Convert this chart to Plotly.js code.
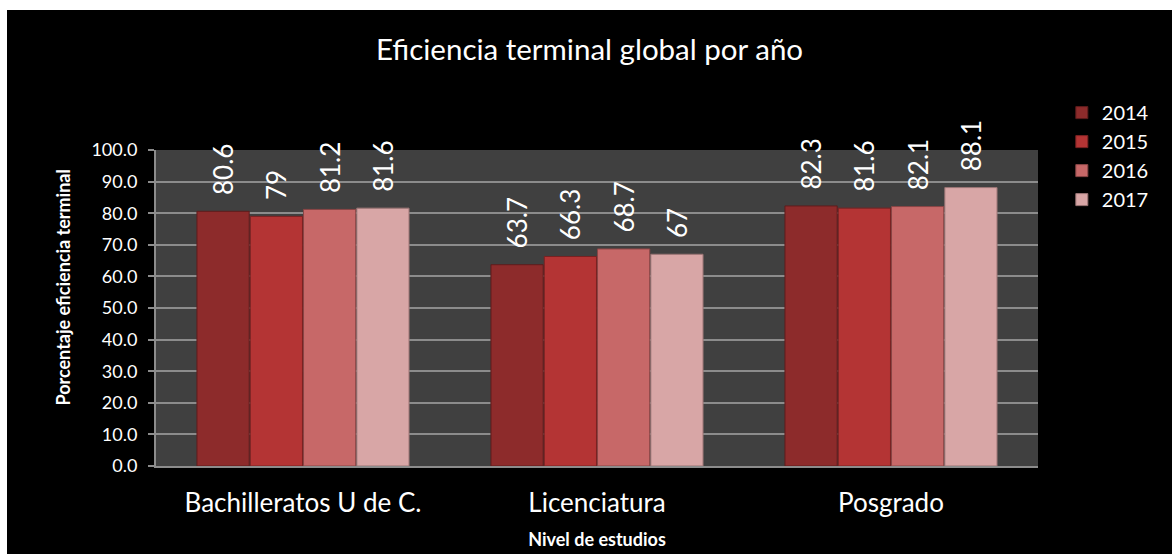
<!DOCTYPE html>
<html>
<head>
<meta charset="utf-8">
<script src="https://cdn.plot.ly/plotly-3.0.1.min.js"></script>
<style>
html,body{margin:0;padding:0;background:#ffffff;}
#chart{position:absolute;left:7px;top:10px;width:1165px;height:544px;}
</style>
</head>
<body>
<div id="chart"></div>
<script>
const categories = ["Bachilleratos U de C.", "Licenciatura", "Posgrado"];
const years = ["2014", "2015", "2016", "2017"];
const v2014 = [80.6, 63.7, 82.3];
const v2015 = [79, 66.3, 81.6];
const v2016 = [81.2, 68.7, 82.1];
const v2017 = [81.6, 67, 88.1];
const tickVals = [0, 10, 20, 30, 40, 50, 60, 70, 80, 90, 100];

const seriesValues = [v2014, v2015, v2016, v2017];
const colors = ["#8d2b2b", "#b43434", "#c76868", "#d8a6a6"];
const lineColors = ["#5e1c1c", "#7a2222", "#8a4646", "#9a7474"];
const FONT = "Lato, sans-serif";

const traces = seriesValues.map((vals, i) => ({
  type: "bar",
  name: years[i],
  x: categories,
  y: vals,
  text: vals.map(v => "\u00A0\u00A0" + String(v)),
  textposition: "outside",
  textangle: -90,
  constraintext: "none",
  cliponaxis: false,
  textfont: {color: "#ffffff", size: 26, family: FONT},
  marker: {color: colors[i], line: {color: lineColors[i], width: 1}},
  hoverinfo: "x+y+name"
}));

const layout = {
  width: 1165,
  height: 544,
  paper_bgcolor: "#000000",
  plot_bgcolor: "#404040",
  font: {family: FONT, color: "#ffffff"},
  margin: {l: 149, r: 134, t: 140, b: 88, pad: 0},
  title: {
    text: "Eficiencia terminal global por año",
    font: {size: 29.5, color: "#ffffff", family: FONT},
    x: 0.5, xanchor: "center", y: 0.927, yanchor: "middle"
  },
  barmode: "group",
  bargap: 0.275,
  bargroupgap: 0.02,
  showlegend: true,
  legend: {
    x: 1.027, xanchor: "left", y: 1.18, yanchor: "top",
    font: {size: 20, color: "#ffffff", family: FONT},
    bgcolor: "rgba(0,0,0,0)",
    tracegroupgap: 0,
    itemwidth: 30
  },
  xaxis: {
    type: "category",
    tickfont: {size: 26, color: "#ffffff", family: FONT},
    showline: true, linecolor: "#8c8c8c", linewidth: 2,
    ticks: "", ticklabelstandoff: 13,
    title: {text: "<b>Nivel de estudios</b>", font: {size: 18, color: "#ffffff", family: FONT}, standoff: 16},
    showgrid: false, zeroline: false
  },
  yaxis: {
    range: [0, 100],
    tickvals: tickVals,
    tickformat: ".1f",
    tickfont: {size: 18, color: "#ffffff", family: FONT},
    ticks: "outside", ticklen: 6, tickwidth: 2, tickcolor: "#8c8c8c",
    ticklabelstandoff: 7,
    showline: true, linecolor: "#8c8c8c", linewidth: 2,
    showgrid: true, gridcolor: "#8c8c8c", gridwidth: 2,
    zeroline: false
  },
  annotations: [{
    text: "<b>Porcentaje eficiencia terminal</b>",
    xref: "paper", yref: "paper",
    x: -0.105, y: 0.566, xanchor: "center", yanchor: "middle",
    textangle: -90, showarrow: false,
    font: {size: 18, color: "#ffffff", family: FONT}
  }]
};

Plotly.newPlot("chart", traces, layout, {displayModeBar: false, responsive: false});
</script>
</body>
</html>
